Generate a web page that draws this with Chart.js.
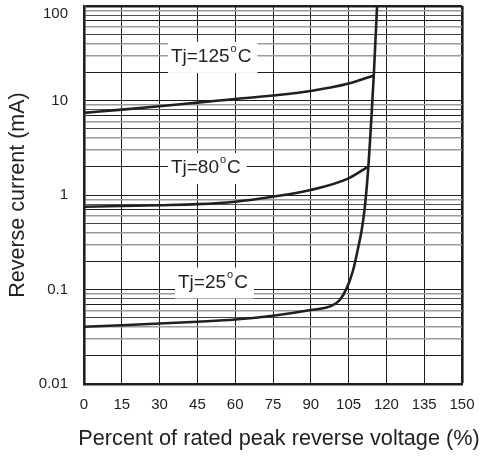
<!DOCTYPE html>
<html>
<head>
<meta charset="utf-8">
<script src="https://cdn.jsdelivr.net/npm/chart.js@4/dist/chart.umd.min.js"></script>
<style>
html,body{margin:0;padding:0;background:#fff;}
#wrap{width:484px;height:465px;}
</style>
</head>
<body>
<div id="wrap"><canvas id="c" width="484" height="465"></canvas></div>
<script>
// ---- data ----
const xTicks = [0, 15, 30, 45, 60, 75, 90, 105, 120, 135, 150];
const yDecades = [0.01, 0.1, 1, 10, 100];
const yDecadeLabels = ['0.01', '0.1', '1', '10', '100'];
const yMinorMantissas = [2, 3, 4, 5, 6, 7, 8, 9];
const xTitle = 'Percent of rated peak reverse voltage (%)';
const yTitle = 'Reverse current (mA)';

const t125X = [0, 15, 30, 45, 60, 75, 90, 105, 115];
const t125Y = [7.4, 8.0, 8.7, 9.5, 10.35, 11.3, 12.6, 15.1, 18.4];

const t80X = [0, 15, 30, 45, 60, 75, 90, 105, 112.8];
const t80Y = [0.75, 0.765, 0.78, 0.80, 0.85, 0.96, 1.13, 1.5, 2.0];

const t25X = [0, 15, 30, 45, 60, 75, 90, 98.2, 101.5, 104.3, 106.7, 108.6, 110.2, 111.4, 112.6, 114.0, 115.0, 116.3];
const t25Y = [0.0404, 0.0419, 0.0436, 0.0456, 0.0481, 0.0528, 0.0607, 0.067, 0.0774, 0.104, 0.157, 0.262, 0.426, 0.73, 1.63, 6.2, 18.6, 100];

const annotTexts = ['Tj=125', 'Tj=80', 'Tj=25'];
const annotX = [34.5, 34.5, 37.3];
const annotY = [28.9, 1.93, 0.1186];

// ---- build ----
const yTickValues = [];
for (let i = 0; i < yDecades.length - 1; i++) {
  yTickValues.push(yDecades[i]);
  yMinorMantissas.forEach(m => yTickValues.push(+(yDecades[i] * m).toPrecision(6)));
}
yTickValues.push(yDecades[yDecades.length - 1]);

const toPts = (xs, ys) => xs.map((x, i) => ({x: x, y: ys[i]}));
const INK = '#231f20';
const FONT = '"Liberation Sans", Arial, sans-serif';
const lineStyle = {
  borderColor: INK, borderWidth: 2.6, pointRadius: 0, fill: false,
  cubicInterpolationMode: 'monotone'
};

function mantissaOf(v) {
  const e = Math.floor(Math.log10(v) + 1e-9);
  return Math.round(v / Math.pow(10, e));
}
const minorColor = {1: '#1e1e1e', 2: '#1e1e1e', 3: '#9a9a9a', 4: '#9a9a9a', 5: '#444', 6: '#9a9a9a', 7: '#1e1e1e', 8: '#555', 9: '#9a9a9a'};

const annotPlugin = {
  id: 'annot',
  beforeDatasetsDraw(chart) {
    const {ctx, scales} = chart;
    ctx.save();
    annotTexts.forEach((t, i) => {
      const px = scales.x.getPixelForValue(annotX[i]);
      const py = scales.y.getPixelForValue(annotY[i]);
      ctx.font = '19px ' + FONT;
      const w1 = ctx.measureText(t).width;
      ctx.font = '11px ' + FONT;
      const w2 = ctx.measureText('o').width;
      ctx.font = '19px ' + FONT;
      const w3 = ctx.measureText('C').width;
      const total = w1 + 1 + w2 + 1 + w3;
      ctx.fillStyle = '#fff';
      ctx.fillRect(px - 3, py - 15, total + 9, 31);
      ctx.fillStyle = INK;
      ctx.textBaseline = 'middle';
      ctx.textAlign = 'left';
      ctx.fillText(t, px, py);
      ctx.font = '11px ' + FONT;
      ctx.fillText('o', px + w1 + 1, py - 8);
      ctx.font = '19px ' + FONT;
      ctx.fillText('C', px + w1 + 2 + w2, py);
    });
    ctx.restore();
  },
  afterDraw(chart) {
    // x-axis title, allowed to run wider than the plot as in the reference
    const {ctx, chartArea} = chart;
    ctx.save();
    ctx.font = '21.7px ' + FONT;
    ctx.fillStyle = '#222';
    ctx.textAlign = 'center';
    ctx.textBaseline = 'middle';
    ctx.fillText(xTitle, (chartArea.left + chartArea.right) / 2 + 6, chartArea.bottom + 55);
    ctx.restore();
  }
};

new Chart(document.getElementById('c'), {
  type: 'line',
  data: {
    datasets: [
      Object.assign({label: 'Tj=125°C', data: toPts(t125X, t125Y)}, lineStyle),
      Object.assign({label: 'Tj=80°C', data: toPts(t80X, t80Y)}, lineStyle),
      Object.assign({label: 'Tj=25°C', data: toPts(t25X, t25Y)}, lineStyle)
    ]
  },
  options: {
    responsive: false,
    animation: false,
    layout: {padding: {top: 6, right: 22, left: 0, bottom: 0}},
    plugins: {legend: {display: false}, tooltip: {enabled: false}},
    scales: {
      x: {
        type: 'linear', min: 0, max: 150,
        afterBuildTicks: s => { s.ticks = xTicks.map(v => ({value: v})); },
        afterFit: s => { s.height = 81; s.paddingLeft = 0; s.paddingRight = 0; },
        ticks: {
          autoSkip: false, maxRotation: 0, padding: 12,
          color: '#222', font: {family: FONT, size: 15}
        },
        grid: {
          drawTicks: false, color: '#1e1e1e',
          lineWidth: c => (c.tick && c.tick.value === 150 ? 2.6 : 1)
        },
        border: {display: true, color: INK, width: 2.6},
        title: {display: false}
      },
      y: {
        type: 'logarithmic', min: 0.01, max: 100,
        afterBuildTicks: s => { s.ticks = yTickValues.map(v => ({value: v})); },
        afterFit: s => { s.width = 84; s.paddingTop = 0; s.paddingBottom = 0; },
        ticks: {
          autoSkip: false, padding: 16,
          color: '#222', font: {family: FONT, size: 15, lineHeight: 1},
          callback: v => {
            const k = yDecades.findIndex(d => Math.abs(d - v) / d < 1e-6);
            if (k < 0) return '';
            return k === yDecades.length - 1 ? ['', yDecadeLabels[k]] : yDecadeLabels[k];
          }
        },
        grid: {
          drawTicks: false,
          color: c => minorColor[mantissaOf(c.tick.value)] || '#1e1e1e',
          lineWidth: c => {
            if (Math.abs(c.tick.value - 100) < 1e-6) return 2.6;
            const m = mantissaOf(c.tick.value);
            return (m === 3 || m === 4 || m === 6 || m === 9) ? 1.6 : 1;
          }
        },
        border: {display: true, color: INK, width: 2.6},
        title: {
          display: true, text: yTitle,
          color: '#222', font: {family: FONT, size: 21.5},
          padding: {top: 5, bottom: 0}
        }
      }
    }
  },
  plugins: [annotPlugin]
});
</script>
</body>
</html>
